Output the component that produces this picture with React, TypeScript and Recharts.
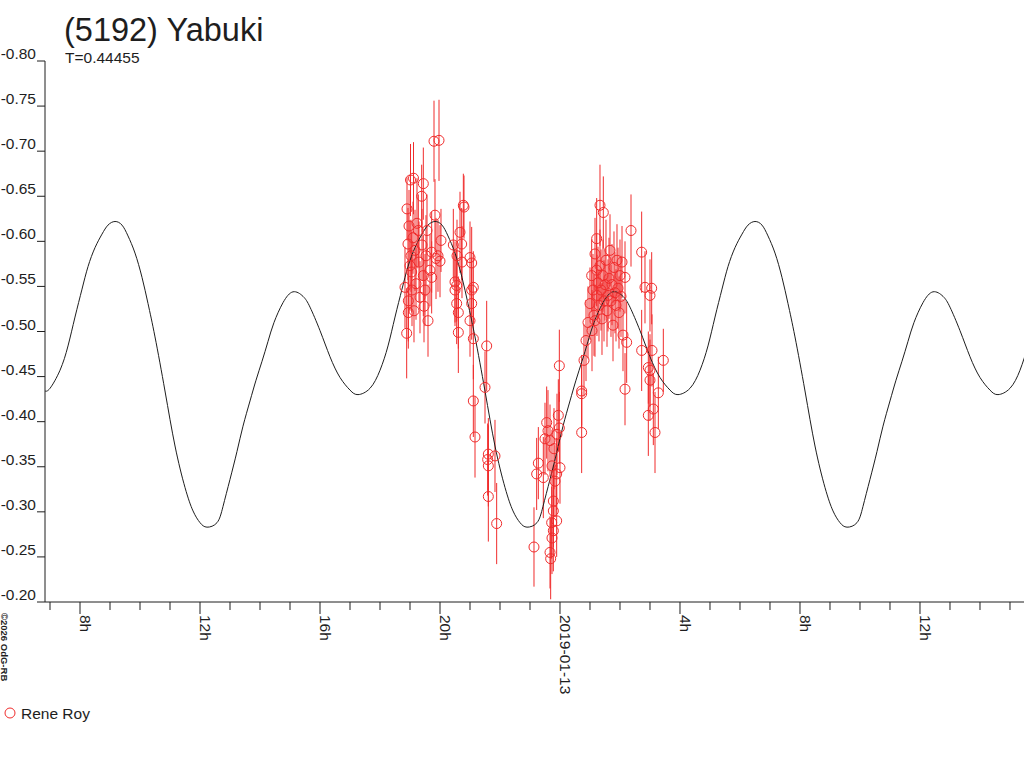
import React from 'react';
import { ComposedChart, XAxis, YAxis, Scatter, Line, ErrorBar } from 'recharts';

const FONT = '"Liberation Sans", Arial, sans-serif';
const RED = '#f02c2c';
const INK = '#1e1e1e';

// Hours since 2019-01-12 00:00 UT
const curveHours = [
  6.833, 7.0, 7.333, 7.6, 7.833, 8.067, 8.267, 8.5, 8.733, 8.933,
  9.167, 9.4, 9.6, 9.833, 10.067, 10.267, 10.5, 10.833, 11.167, 11.5, 11.767, 12.0, 12.233, 12.567, 12.767,
  13.0, 13.233, 13.433, 13.667, 13.867, 14.067, 14.267, 14.467, 14.767, 15.1, 15.433, 15.667, 16.0, 16.333,
  16.667, 17.0, 17.267, 17.667, 18.0, 18.267, 18.5, 18.733, 18.933, 19.167, 19.4, 19.6,
  19.833, 20.067, 20.267, 20.5, 20.733, 20.933, 21.167, 21.5, 21.833, 22.167, 22.433, 22.667, 22.9, 23.233,
  23.433, 23.667, 23.9, 24.1, 24.333, 24.533, 24.733, 24.933, 25.133, 25.433, 25.767, 26.1, 26.333, 26.667,
  27.0, 27.333, 27.667, 27.933, 28.333, 28.667, 28.933, 29.167, 29.4, 29.6, 29.833, 30.067, 30.267,
  30.5, 30.733, 30.933, 31.167, 31.4, 31.6, 31.833, 32.167, 32.5, 32.833, 33.1, 33.333, 33.567, 33.9,
  34.1, 34.333, 34.567, 34.767, 35.0, 35.2, 35.4, 35.6, 35.8, 36.1, 36.433, 36.767, 37.0, 37.333,
  37.667, 38.0, 38.333, 38.6, 39.0, 39.333, 39.6,
];
const curveMag = [
  -0.434, -0.437, -0.457, -0.484, -0.516, -0.547, -0.572, -0.593, -0.608, -0.618,
  -0.622, -0.618, -0.606, -0.587, -0.56, -0.531, -0.494, -0.434, -0.373, -0.327, -0.301, -0.288, -0.283, -0.288, -0.306,
  -0.336, -0.367, -0.395, -0.423, -0.446, -0.467, -0.489, -0.51, -0.532, -0.544, -0.539, -0.527, -0.501, -0.472,
  -0.449, -0.435, -0.43, -0.437, -0.457, -0.484, -0.516, -0.547, -0.572, -0.593, -0.608, -0.618,
  -0.622, -0.618, -0.606, -0.587, -0.56, -0.531, -0.494, -0.434, -0.373, -0.327, -0.301, -0.288, -0.283, -0.288,
  -0.306, -0.336, -0.367, -0.395, -0.423, -0.446, -0.467, -0.489, -0.51, -0.532, -0.544, -0.539, -0.527, -0.501,
  -0.472, -0.449, -0.435, -0.43, -0.437, -0.457, -0.484, -0.516, -0.547, -0.572, -0.593, -0.608, -0.618,
  -0.622, -0.618, -0.606, -0.587, -0.56, -0.531, -0.494, -0.434, -0.373, -0.327, -0.301, -0.288, -0.283, -0.288,
  -0.306, -0.336, -0.367, -0.395, -0.423, -0.446, -0.467, -0.489, -0.51, -0.532, -0.544, -0.539, -0.527, -0.501,
  -0.472, -0.449, -0.435, -0.43, -0.437, -0.457, -0.484,
];

// Observations (Rene Roy)
const obsHours = [
  18.833, 18.889, 18.9, 18.933, 18.944, 18.944, 18.967, 19.0, 19.017, 19.056,
  19.033, 19.067, 19.1, 19.117, 19.133, 19.167, 19.2, 19.233, 19.278, 19.3,
  19.333, 19.389, 19.4, 19.444, 19.444, 19.467, 19.5, 19.533, 19.567, 19.6,
  19.667, 19.722, 19.722, 19.8, 19.833, 19.867, 19.933, 19.967, 20.0, 20.033,
  20.444, 20.5, 20.5, 20.556, 20.556, 20.567, 20.611, 20.611, 20.667, 20.722,
  20.733, 20.778, 20.8, 21.0, 21.056, 21.056, 21.111, 21.056, 21.111, 21.0,
  21.111, 21.167, 21.556, 21.5, 21.611, 21.589, 21.611, 21.833, 21.611, 21.889,
  23.133, 23.222, 23.278, 23.444, 23.5, 23.556, 23.6, 23.667, 23.667, 23.689,
  23.722, 23.733, 23.778, 23.778, 23.778, 23.8, 23.833, 23.889, 23.889, 23.9,
  23.944, 23.978, 24.0, 23.978, 23.733,
  24.722, 24.722, 24.722, 24.8, 24.867, 24.933, 25.0, 25.056, 25.067, 25.1,
  25.133, 25.167, 25.167, 25.222, 25.222, 25.233, 25.267, 25.3, 25.333, 25.333,
  25.367, 25.4, 25.444, 25.433, 25.467, 25.5, 25.533, 25.567, 25.6, 25.633,
  25.667, 25.7, 25.733, 25.767, 25.8, 25.833, 25.867, 25.9, 25.933, 25.967,
  26.0, 26.033, 26.067, 26.1, 26.167, 26.167, 26.222, 26.367, 26.722, 26.722,
  26.833, 26.944, 26.944, 27.0, 27.0, 27.056, 27.111, 27.167, 27.278, 27.444,
  27.067, 27.0,
];
const obsMag = [
  -0.549, -0.498, -0.636, -0.597, -0.534, -0.521, -0.617, -0.573, -0.668, -0.566,
  -0.584, -0.546, -0.604, -0.67, -0.523, -0.59, -0.553, -0.62, -0.612, -0.577,
  -0.538, -0.65, -0.596, -0.664, -0.562, -0.528, -0.546, -0.584, -0.612, -0.512,
  -0.568, -0.588, -0.56, -0.711, -0.629, -0.581, -0.584, -0.712, -0.578, -0.601,
  -0.596, -0.555, -0.546, -0.551, -0.531, -0.584, -0.521, -0.499, -0.61, -0.597,
  -0.577, -0.64, -0.638, -0.582, -0.576, -0.546, -0.549, -0.531, -0.492, -0.512,
  -0.423, -0.383, -0.484, -0.438, -0.364, -0.358, -0.351, -0.362, -0.317, -0.287,
  -0.261, -0.342, -0.354, -0.338, -0.381, -0.399, -0.39, -0.379, -0.255, -0.248,
  -0.288, -0.351, -0.312, -0.279, -0.301, -0.37, -0.334, -0.29, -0.342, -0.386,
  -0.407, -0.393, -0.349, -0.462, -0.271,
  -0.434, -0.431, -0.388, -0.468, -0.49, -0.51, -0.531, -0.562, -0.501, -0.546,
  -0.518, -0.586, -0.512, -0.603, -0.568, -0.54, -0.554, -0.529, -0.64, -0.573,
  -0.546, -0.514, -0.632, -0.562, -0.534, -0.552, -0.579, -0.523, -0.54, -0.559,
  -0.59, -0.534, -0.552, -0.507, -0.571, -0.543, -0.529, -0.579, -0.548, -0.521,
  -0.562, -0.539, -0.577, -0.496, -0.56, -0.436, -0.488, -0.612, -0.588, -0.479,
  -0.549, -0.46, -0.407, -0.54, -0.446, -0.548, -0.414, -0.388, -0.432, -0.468,
  -0.479, -0.457,
];
const obsErr = [
  0.045, 0.05, 0.035, 0.04, 0.045, 0.04, 0.04, 0.05, 0.04, 0.045,
  0.04, 0.04, 0.04, 0.04, 0.035, 0.045, 0.04, 0.05, 0.04, 0.045,
  0.04, 0.035, 0.04, 0.04, 0.045, 0.04, 0.04, 0.045, 0.04, 0.04,
  0.04, 0.045, 0.04, 0.045, 0.04, 0.045, 0.04, 0.045, 0.04, 0.035,
  0.04, 0.045, 0.04, 0.04, 0.045, 0.04, 0.04, 0.045, 0.045, 0.04,
  0.04, 0.035, 0.035, 0.04, 0.04, 0.035, 0.04, 0.04, 0.045, 0.04,
  0.04, 0.045, 0.05, 0.04, 0.04, 0.04, 0.045, 0.04, 0.05, 0.045,
  0.044, 0.04, 0.04, 0.045, 0.04, 0.04, 0.045, 0.04, 0.04, 0.045,
  0.04, 0.04, 0.04, 0.045, 0.04, 0.045, 0.04, 0.04, 0.04, 0.045,
  0.04, 0.04, 0.04, 0.04, 0.04,
  0.04, 0.035, 0.045, 0.04, 0.045, 0.04, 0.04, 0.04, 0.045, 0.04,
  0.045, 0.04, 0.04, 0.045, 0.04, 0.045, 0.04, 0.04, 0.045, 0.04,
  0.045, 0.04, 0.04, 0.04, 0.045, 0.04, 0.045, 0.04, 0.04, 0.045,
  0.04, 0.04, 0.045, 0.04, 0.04, 0.045, 0.04, 0.04, 0.045, 0.04,
  0.04, 0.045, 0.04, 0.04, 0.04, 0.04, 0.045, 0.04, 0.045, 0.045,
  0.04, 0.04, 0.045, 0.04, 0.045, 0.04, 0.04, 0.045, 0.04, 0.035,
  0.04, 0.04,
];

const yTicks = [-0.8, -0.75, -0.7, -0.65, -0.6, -0.55, -0.5, -0.45, -0.4, -0.35, -0.3, -0.25, -0.2];
const xTicks = [7, 8, 9, 10, 11, 12, 13, 14, 15, 16, 17, 18, 19, 20, 21, 22, 23, 24, 25, 26, 27, 28, 29, 30, 31, 32, 33, 34, 35, 36, 37, 38, 39];
const xMajorTicks = [8, 12, 16, 20, 24, 28, 32, 36];
const xMajorLabels = ['8h', '12h', '16h', '20h', '2019-01-13', '4h', '8h', '12h'];

const curveData = curveHours.map((h, i) => ({ h, mag: curveMag[i] }));
const obsData = obsHours.map((h, i) => ({ h, mag: obsMag[i], err: obsErr[i] }));

const XTick = (props: any) => {
  const { x, y, payload } = props;
  const idx = xMajorTicks.indexOf(payload.value);
  const major = idx >= 0;
  return (
    <g>
      <line x1={x} x2={x} y1={y} y2={y + (major ? 12 : 8)} stroke={INK} strokeWidth={1} />
      {major && (
        <text
          transform={`translate(${x},${y + 13}) rotate(90)`}
          textAnchor="start"
          fontSize={15.5}
          fontFamily={FONT}
          fill={INK}
        >
          {xMajorLabels[idx]}
        </text>
      )}
    </g>
  );
};

const YTick = (props: any) => {
  const { x, y, payload } = props;
  return (
    <g>
      <line x1={x - 8} x2={x} y1={y} y2={y} stroke={INK} strokeWidth={1} />
      <text x={x - 9} y={y - 2} textAnchor="end" fontSize={15.5} fontFamily={FONT} fill={INK}>
        {Number(payload.value).toFixed(2)}
      </text>
    </g>
  );
};

const Ring = (p: any) => (
  <circle cx={p.cx} cy={p.cy} r={5} fill="none" stroke={RED} strokeWidth={1} />
);

export default function App() {
  return (
    <div style={{ position: 'absolute', left: 0, top: 0, width: 1024, height: 768, background: '#fff' }}>
      <ComposedChart width={1024} height={768} margin={{ top: 61, right: 0, bottom: 0, left: 0 }}>
        <XAxis
          dataKey="h"
          type="number"
          scale="linear"
          domain={[6.833, 39.467]}
          allowDataOverflow
          ticks={xTicks}
          interval={0}
          tickSize={0}
          tickMargin={0}
          tickLine={false}
          tick={<XTick />}
          height={166}
          axisLine={{ stroke: INK, strokeWidth: 1 }}
        />
        <YAxis
          type="number"
          domain={[-0.8, -0.2]}
          reversed
          allowDataOverflow
          ticks={yTicks}
          interval={0}
          width={45}
          tickSize={0}
          tickMargin={0}
          tickLine={false}
          tick={<YTick />}
          axisLine={{ stroke: INK, strokeWidth: 1 }}
        />
        <Scatter data={obsData} dataKey="mag" isAnimationActive={false} shape={<Ring />}>
          <ErrorBar dataKey="err" direction="y" width={0} stroke={RED} strokeWidth={1} isAnimationActive={false} />
        </Scatter>
        <Line
          data={curveData}
          dataKey="mag"
          type="natural"
          stroke={INK}
          strokeWidth={1}
          dot={false}
          activeDot={false}
          isAnimationActive={false}
        />
      </ComposedChart>
      <svg width={1024} height={768} style={{ position: 'absolute', left: 0, top: 0, pointerEvents: 'none' }}>
        <text x={64} y={41} fontSize={32.5} fontFamily={FONT} fill={INK}>(5192) Yabuki</text>
        <text x={65} y={63} fontSize={15.5} fontFamily={FONT} fill={INK}>T=0.44455</text>
        <text transform="translate(1,613) rotate(90)" fontSize={9.5} fontWeight="bold" fontFamily={FONT} fill={INK}>
          ©2026 OdG-RB
        </text>
        <circle cx={10} cy={713} r={5} fill="none" stroke={RED} strokeWidth={1} />
        <text x={21} y={719} fontSize={15.5} fontFamily={FONT} fill={INK}>Rene Roy</text>
      </svg>
    </div>
  );
}
